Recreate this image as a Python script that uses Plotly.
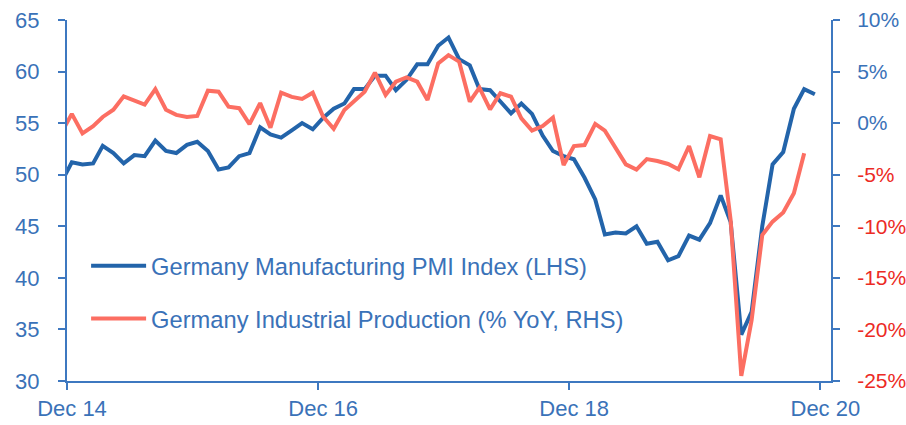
import pandas as pd
import plotly.graph_objects as go

# ---- data ----
pmi_months = pd.date_range("2014-11-01", "2020-11-01", freq="MS") + pd.Timedelta(days=14)
pmi_values = [
    49.3, 51.2,
    51.0, 51.1, 52.8, 52.1, 51.1, 51.9, 51.8, 53.3, 52.3, 52.1, 52.9, 53.2,
    52.3, 50.5, 50.7, 51.8, 52.1, 54.6, 53.9, 53.6, 54.3, 55.0, 54.4, 55.5,
    56.4, 56.9, 58.3, 58.3, 59.6, 59.6, 58.2, 59.2, 60.7, 60.7, 62.5, 63.3,
    61.2, 60.6, 58.3, 58.2, 57.1, 55.95, 56.9, 55.9, 53.8, 52.3, 51.8, 51.5,
    49.7, 47.6, 44.2, 44.4, 44.3, 45.0, 43.3, 43.5, 41.7, 42.1, 44.1, 43.7,
    45.3, 48.0, 45.4, 34.5, 36.7, 45.0, 51.0, 52.2, 56.4, 58.3, 57.8,
]
ip_months = pd.date_range("2014-11-01", "2020-10-01", freq="MS") + pd.Timedelta(days=14)
ip_values = [
    -0.9, 0.9,
    -1.0, -0.3, 0.6, 1.3, 2.6, 2.2, 1.8, 3.3, 1.3, 0.8, 0.6, 0.7,
    3.15, 3.05, 1.6, 1.45, -0.1, 1.95, -0.45, 2.95, 2.55, 2.35, 2.95, 0.65,
    -0.55, 1.27, 2.08, 3.05, 4.9, 2.73, 4.02, 4.44, 4.02, 2.24, 5.8, 6.6,
    5.96, 2.08, 3.44, 1.34, 2.9, 2.57, 0.47, -0.73, -0.28, 0.53, -4.06, -2.22,
    -2.12, -0.08, -0.73, -2.44, -4.0, -4.5, -3.48, -3.67, -3.96, -4.48, -2.22, -5.25,
    -1.25, -1.57, -9.4, -24.5, -19.1, -10.85, -9.55, -8.67, -6.8, -2.93,
]
x_tick_dates = ["2014-12-01", "2016-12-01", "2018-12-01", "2020-12-01"]
x_tick_labels = ["Dec 14", "Dec 16", "Dec 18", "Dec 20"]
left_ticks = [30, 35, 40, 45, 50, 55, 60, 65]
right_ticks = [-25, -20, -15, -10, -5, 0, 5, 10]

pmi_name = "Germany Manufacturing PMI Index (LHS)"
ip_name = "Germany Industrial Production (% YoY, RHS)"

# ---- styles ----
BLUE_LINE = "#2364AA"
RED_LINE = "#FC6E62"
AXIS = "#3E78C0"
TEXT = "#3A72B8"
NEG = "#EC2A24"
FONT = "Liberation Sans, Arial, sans-serif"

right_text = [
    (f'<span style="color:{NEG}">{v}%</span>' if v < 0 else f"{v}%") for v in right_ticks
]

fig = go.Figure()
fig.add_trace(go.Scatter(
    x=pmi_months, y=pmi_values, name=pmi_name, mode="lines",
    line=dict(color=BLUE_LINE, width=4), yaxis="y", legendgroup="a",
))
fig.add_trace(go.Scatter(
    x=ip_months, y=ip_values, name=ip_name, mode="lines",
    line=dict(color=RED_LINE, width=4), yaxis="y2", legendgroup="b",
))

fig.update_layout(
    width=906, height=425,
    margin=dict(l=67, r=75, t=20, b=44),
    paper_bgcolor="white", plot_bgcolor="white",
    font=dict(family=FONT, color=TEXT, size=20),
    showlegend=True,
    legend=dict(
        x=0.025, y=0.38, xanchor="left", yanchor="top",
        bgcolor="rgba(0,0,0,0)", font=dict(size=23.7, color=TEXT),
        itemwidth=55, tracegroupgap=19,
    ),
    xaxis=dict(
        type="date", range=["2014-12-01", "2021-01-01"],
        tickvals=x_tick_dates, ticktext=x_tick_labels,
        showline=True, linecolor=AXIS, linewidth=2,
        ticks="outside", ticklen=7, tickcolor=AXIS, tickwidth=1.5,
        showgrid=False, zeroline=False, automargin=False,
        tickfont=dict(size=22, color=TEXT), ticklabelshift=5,
    ),
    yaxis=dict(
        range=[30, 65], tickvals=left_ticks,
        showline=True, linecolor=AXIS, linewidth=2,
        ticks="outside", ticklen=7, tickcolor=AXIS, tickwidth=1.5,
        showgrid=False, zeroline=False, automargin=False,
        tickfont=dict(size=22, color=TEXT), ticklabelstandoff=14,
    ),
    yaxis2=dict(
        range=[-25, 10], tickvals=right_ticks, ticktext=right_text,
        overlaying="y", side="right",
        showline=True, linecolor=AXIS, linewidth=2,
        ticks="outside", ticklen=7, tickcolor=AXIS, tickwidth=1.5,
        showgrid=False, zeroline=False, automargin=False,
        tickfont=dict(size=21, color=TEXT), ticklabelstandoff=13,
    ),
)

fig.write_html(
    "out.html",
    config={"displayModeBar": False},
    post_script="document.body.style.margin='0';document.body.style.padding='0';",
)
